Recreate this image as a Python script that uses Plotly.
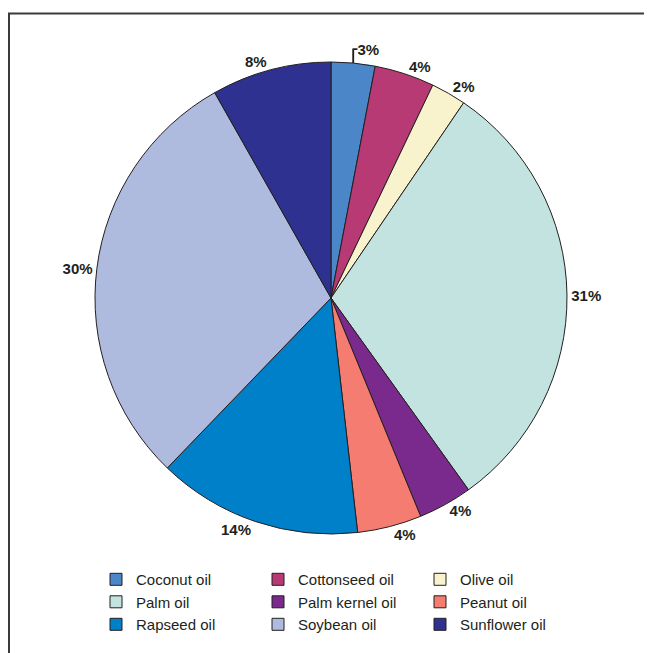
import plotly.graph_objects as go

# Vegetable oil shares (%)
oils = ["Coconut oil", "Cottonseed oil", "Olive oil",
        "Palm oil", "Palm kernel oil", "Peanut oil",
        "Rapseed oil", "Soybean oil", "Sunflower oil"]
shares = [3.0, 4.1, 2.4, 30.6, 3.7, 4.4, 14.0, 29.6, 8.2]
colors = ["#4a86c8", "#b83a74", "#f8f3cc",
          "#c3e3e0", "#7a2a8c", "#f47c70",
          "#0080c8", "#aebbde", "#2e3190"]

W, H = 652, 653
ML, MR = 70, 70  # side margins keep the legend to 3 columns
PW = W - ML - MR
CX, CY, R = 323, 290, 236  # pie centre / radius in figure pixels

fig = go.Figure(
    go.Pie(
        labels=oils,
        values=shares,
        sort=False,
        direction="clockwise",
        rotation=0,
        marker=dict(colors=colors, line=dict(color="#231f20", width=1)),
        texttemplate="<b>%{percent:.0%}</b>",
        textposition="outside",
        outsidetextfont=dict(family="Liberation Sans, Arial", size=15, color="#231f20"),
        domain=dict(x=[(CX - R - ML) / PW, (CX + R - ML) / PW],
                    y=[1 - (CY + R) / H, 1 - (CY - R) / H]),
        showlegend=True,
    )
)

fig.update_layout(
    width=W,
    height=H,
    margin=dict(l=ML, r=MR, t=0, b=0, autoexpand=False),
    paper_bgcolor="white",
    font=dict(family="Liberation Sans, Arial", color="#231f20"),
    legend=dict(
        orientation="h",
        x=(88 - ML) / PW,
        y=0.15,
        xanchor="left",
        yanchor="top",
        entrywidth=117,
        traceorder="normal",
        font=dict(size=15, color="#231f20"),
    ),
    shapes=[
        dict(type="rect", xref="paper", yref="paper",
             x0=(1 - ML) / PW, x1=1.3, y0=-0.05, y1=1 - 5.5 / H,
             line=dict(color="#3a3a3a", width=2)),
    ],
)

fig.write_html("out.html")
